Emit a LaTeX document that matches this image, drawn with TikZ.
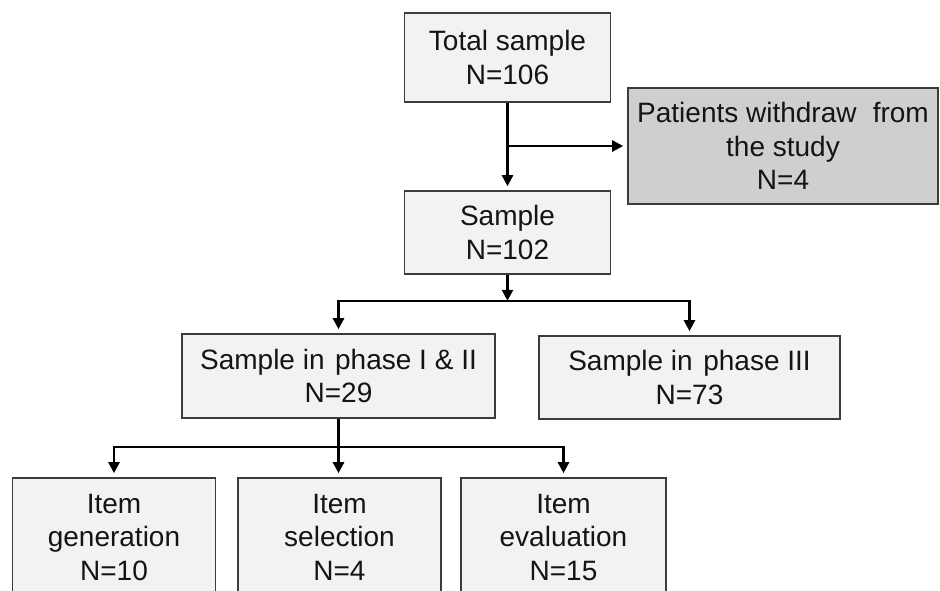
\documentclass[tikz,border=0pt]{standalone}
\usepackage{fontspec}
\setmainfont{Liberation Sans}
\usetikzlibrary{arrows.meta}
\definecolor{boxfill}{HTML}{F2F2F2}
\definecolor{greyfill}{HTML}{CFCFCF}
\definecolor{boxline}{HTML}{3C3C3C}
\definecolor{txt}{HTML}{141414}
\begin{document}
\begin{tikzpicture}[x=1pt,y=-1pt,
  fbox/.style={draw=boxline, line width=1.6pt, fill=boxfill, inner sep=0pt,
    align=center, font=\fontsize{28}{33.5}\selectfont, text=txt},
  tip/.style={-{Triangle[length=11pt,width=11pt]}},
  arr/.style={line width=2.4pt, tip, shorten >=4pt},
  ln/.style={line width=2.4pt}]
\useasboundingbox (0,0) rectangle (940,590);
\clip (0,0) rectangle (940,590);
\fill[white] (0,0) rectangle (940,590);
\node[fbox, minimum width=206pt, minimum height=89pt] (total) at (507.5,57.5) {Total sample\\N=106};
\node[fbox, fill=greyfill, minimum width=310pt, minimum height=116pt] (withdraw) at (783,146) {Patients withdraw\hspace{0.3em} from\\the study\\N=4};
\node[fbox, minimum width=206pt, minimum height=83pt] (sample) at (507.5,232.5) {Sample\\N=102};
\node[fbox, minimum width=313pt, minimum height=84pt] (p12) at (338.5,376) {Sample in\hspace{0.1em} phase I \& II\\N=29};
\node[fbox, minimum width=301pt, minimum height=83pt] (p3) at (689.5,377.5) {Sample in\hspace{0.1em} phase III\\N=73};
\node[fbox, minimum width=203pt, minimum height=118pt] (gen) at (114,537) {Item\\generation\\N=10};
\node[fbox, minimum width=203pt, minimum height=118pt] (sel) at (339.5,537) {Item\\selection\\N=4};
\node[fbox, minimum width=205pt, minimum height=118pt] (eval) at (563.5,537) {Item\\evaluation\\N=15};
% connectors
\draw[arr] (total.south) -- (sample.north);
\coordinate (b1) at (total.south |- withdraw.west);
\draw[arr] (b1) -- (withdraw.west);
\path (sample.south) ++(0,26) coordinate (j1);
\draw[ln, tip] (sample.south) -- (j1);
\draw[arr] (j1) -| (p12.north);
\draw[arr] (j1) -| (p3.north);
\path (p12.south) ++(0,28) coordinate (j2);
\draw[arr] (p12.south) -- (p12.south |- sel.north);
\draw[arr] (j2) -| (gen.north);
\draw[arr] (j2) -| (eval.north);
\end{tikzpicture}
\end{document}
